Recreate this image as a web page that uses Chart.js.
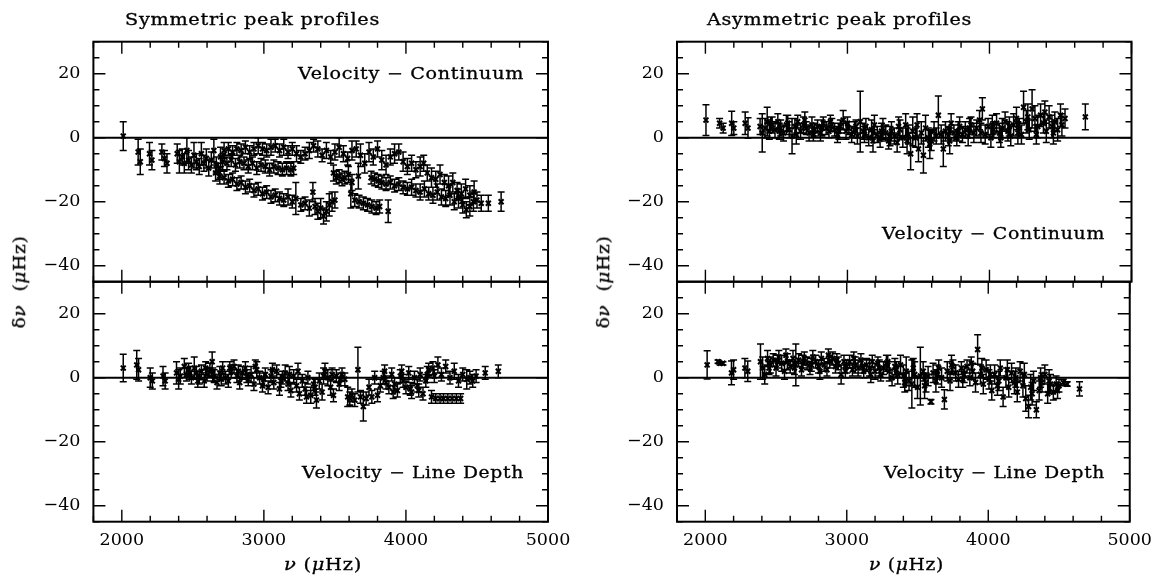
<!DOCTYPE html>
<html>
<head>
<meta charset="utf-8">
<script src="https://cdn.jsdelivr.net/npm/chart.js@4.4.1/dist/chart.umd.min.js"></script>
<style>
  html, body { margin: 0; padding: 0; background: #fff; overflow: hidden; }
  #page { position: relative; width: 1156px; height: 575px; }
  canvas { position: absolute; }
  .txt { position: absolute; font-family: 'DejaVu Serif', serif; font-size: 16px; line-height: 16px; color: #000; white-space: pre; -webkit-text-stroke: 0.3px #000; }
</style>
</head>
<body>
<div id="page">
  <canvas id="symCont" width="580" height="330" style="left:0px;top:0px"></canvas>
  <canvas id="symDepth" width="580" height="345" style="left:0px;top:230px"></canvas>
  <canvas id="asymCont" width="580" height="330" style="left:580px;top:0px"></canvas>
  <canvas id="asymDepth" width="580" height="345" style="left:580px;top:230px"></canvas>
</div>
<script>
// axis ranges and labelled ticks
const xMin = 1800, xMax = 5000, xMinorStep = 200;
const yMin = -45, yMax = 30, yMinorStep = 5;
const xLabelTicks = [2000, 3000, 4000, 5000];
const yLabelTicks = [-40, -20, 0, 20];

// rows: [frequency (uHz), frequency shift (uHz), error (uHz)]
const symContinuum = [
  [2010, 0.5, 4.5], [2115, -4.5, 4], [2130, -7.5, 4], [2195, -5, 3.5], [2212, -7, 3],
  [2282, -4.5, 2.5], [2300, -6.5, 2.5], [2318, -8, 3],
  [2390, -5, 3], [2405, -7.5, 3.5], [2425, -6, 2.5], [2440, -8, 3], [2458, -4, 4],
  [2470, -7, 3], [2490, -8.5, 2.5], [2508, -5.5, 4], [2525, -7.5, 2.5], [2545, -9, 2.5],
  [2560, -5, 3.5], [2578, -8, 2.5], [2595, -6.5, 3], [2612, -9.5, 2.5], [2630, -7, 2.5],
  [2648, -4, 3.5], [2665, -8.5, 2.5], [2680, -10.5, 2.5], [2695, -6, 3],
  // upper track
  [2720, -4, 2.5], [2750, -3.5, 2], [2780, -4.5, 2], [2810, -3.5, 2], [2840, -4, 2],
  [2870, -3, 2], [2900, -4.5, 2], [2930, -3.5, 2], [2960, -2.5, 2.5], [2990, -3.5, 2],
  [3020, -4, 2], [3050, -3, 2.5], [3080, -2.5, 2], [3110, -4, 2], [3140, -3, 2.5],
  [3170, -4.5, 2], [3200, -3.5, 2], [3230, -5, 2.5], [3260, -6, 2], [3290, -5, 2],
  [3320, -4, 2.5], [3350, -2.5, 2], [3380, -3.5, 2.5], [3410, -5.5, 2], [3440, -4, 2.5],
  [3470, -6, 2], [3500, -4.5, 2.5], [3530, -3, 3], [3560, -5, 2.5], [3590, -6.5, 2],
  [3620, -4, 3], [3650, -3.5, 2.5], [3680, -5.5, 3.5], [3710, -8, 3], [3740, -4.5, 3],
  [3770, -6, 2.5], [3800, -3.5, 2.5], [3830, -7, 3], [3860, -8.5, 3], [3890, -6, 2.5],
  [3920, -5, 3], [3950, -4.5, 2.5], [3980, -7.5, 3], [4010, -9, 2.5], [4040, -8, 2.5],
  [4070, -10, 2.5], [4100, -9, 3], [4125, -8, 2.5],
  [4150, -11, 2.5], [4180, -12.5, 3], [4210, -13, 2.5], [4240, -11.5, 3], [4270, -14, 2.5],
  [4300, -15, 3], [4330, -14, 3], [4360, -16.5, 2.5], [4390, -17.5, 3], [4420, -16, 3],
  [4450, -18, 3], [4480, -17, 3.5],
  // middle track
  [2710, -7.5, 2.5], [2740, -8, 2], [2770, -7, 2], [2800, -8.5, 2], [2830, -7.5, 2],
  [2860, -8, 2], [2890, -9, 2], [2920, -8, 2], [2950, -9.5, 2], [2980, -8.5, 2],
  [3010, -9, 2], [3040, -10, 2], [3070, -9, 2], [3100, -9.5, 2], [3130, -10, 2],
  [3160, -9.5, 2], [3190, -10, 2], [3210, -9.5, 2],
  // lower track
  [2660, -11, 2.5], [2690, -12, 2.5], [2720, -12.5, 2], [2750, -13.5, 2], [2780, -13, 2],
  [2810, -14.5, 2], [2840, -14, 2], [2870, -15.5, 2], [2900, -15, 2], [2930, -16.5, 2],
  [2960, -16, 2], [2990, -17.5, 2], [3020, -17, 2], [3050, -18.5, 2], [3080, -18, 2],
  [3110, -19, 2], [3140, -19.5, 2], [3170, -18.5, 2.5], [3200, -20, 2], [3225, -19, 5],
  [3260, -21, 2], [3290, -20.5, 2], [3320, -22, 2.5], [3345, -17, 3], [3360, -21.5, 2.5],
  [3380, -23, 2.5], [3400, -22, 3], [3420, -24.5, 2.5], [3440, -23, 3], [3460, -21, 3.5],
  [3480, -20, 3], [3500, -19.5, 2.5],
  [3490, -11, 2.5], [3510, -12.5, 2], [3530, -12, 2], [3550, -13, 2], [3570, -12.5, 2],
  [3595, -11.5, 2.5], [3620, -14, 2.5], [3665, -12, 4],
  [3612, -17.5, 4.5], [3640, -19.5, 2], [3670, -20, 2], [3700, -20.5, 2], [3730, -21, 2],
  [3760, -21.5, 2], [3790, -22, 2], [3815, -21.5, 2], [3875, -23, 3.5],
  // descending track
  [3755, -12.5, 2], [3780, -13, 2], [3805, -13.5, 2], [3830, -14, 2], [3860, -14.5, 2],
  [3890, -14, 2], [3920, -15, 2], [3950, -14.5, 2], [3980, -15.5, 2], [4010, -16, 2],
  [4040, -15.5, 2.5], [4070, -16.5, 2], [4100, -17, 2.5], [4130, -16, 2.5], [4160, -17.5, 2],
  [4190, -18, 2.5], [4220, -17, 2.5], [4250, -18.5, 2.5], [4280, -19, 2.5], [4310, -18, 3],
  [4340, -20, 2.5], [4370, -19, 3], [4400, -21, 2.5], [4425, -22.5, 2.5], [4450, -21.5, 3],
  [4475, -20, 3], [4500, -19.5, 2.5], [4530, -20.5, 2.5], [4580, -20.5, 2.5], [4670, -20, 3]
];

const symLineDepth = [
  [2010, 3, 4.3], [2105, 4, 4.5], [2118, 2.5, 3.5], [2200, 0, 3], [2215, -1, 2.5],
  [2290, 0.5, 3], [2305, -1, 2.5], [2385, 1.5, 3.5], [2400, -0.5, 3], [2412, 0.5, 2.5],
  [2440, 3.5, 2.5], [2455, 1, 2], [2470, 2.5, 2], [2480, 1.5, 2], [2490, 0, 2],
  [2510, 3, 3.5], [2525, 1.5, 2], [2535, -1, 2], [2545, 0, 2], [2560, 2, 2],
  [2580, -1, 2], [2590, 3, 2], [2600, 1, 2], [2620, 2.5, 2], [2636, 5, 3],
  [2640, 1, 2], [2650, 0.5, 2], [2670, -1.5, 2], [2690, 1.5, 2], [2700, -0.5, 2],
  [2710, 3, 2], [2730, 0, 2], [2750, -1, 2], [2760, 3, 2], [2770, 2, 2],
  [2790, 3.5, 2], [2810, 0.5, 2], [2820, 2, 2], [2830, -1.5, 2], [2850, 1.5, 2],
  [2870, 3, 2], [2880, 0.5, 2], [2890, -0.5, 2], [2910, 1, 2.5], [2930, -2, 2],
  [2940, 3.5, 2], [2950, 2.5, 2.5], [2970, 0, 2], [2990, -2.5, 2], [3000, -0.5, 2],
  [3010, 1, 2], [3030, -3, 2], [3050, 0.5, 2], [3060, 2.5, 2], [3070, -1.5, 2],
  [3090, 2, 2], [3110, -3.5, 2], [3120, -1, 2], [3130, 0, 2], [3150, 1.5, 2.5],
  [3170, -2, 2], [3180, 1, 2.5], [3190, -4, 2], [3210, 0.5, 2], [3230, -2.5, 2],
  [3240, 2, 2.5], [3250, -5, 2], [3270, -1, 2], [3290, -3.5, 2], [3300, -6, 2],
  [3310, 0, 2], [3330, -5.5, 2.5], [3350, -2, 2], [3360, -3, 2.5], [3370, -7, 2.5],
  [3390, -1, 2.5], [3410, -4.5, 2.5], [3420, 0.5, 2.5], [3430, 2, 2.5], [3450, 0, 2.5],
  [3470, -3, 2.5], [3480, 1, 2], [3490, -5.5, 2], [3510, 0.5, 2], [3530, -2, 2],
  [3540, -0.5, 2], [3550, 1, 2], [3570, -0.5, 2], [3590, -6, 3], [3605, -6.5, 2],
  [3620, -5.5, 2], [3640, -7, 2], [3662, 2.5, 7], [3680, -6, 2], [3700, -9, 4.5],
  [3720, -6.5, 2], [3740, -3, 2.5], [3760, -6, 2], [3780, 0, 2], [3800, -5.5, 2],
  [3820, -2.5, 2], [3840, 0, 2], [3850, 2, 2], [3860, -1.5, 2], [3880, -3, 2],
  [3900, 1, 2], [3910, -4.5, 2], [3920, -2, 2], [3940, -4, 2], [3960, 0.5, 2],
  [3970, 2, 2], [3980, -1, 2], [4000, -3, 2], [4020, 1.5, 2], [4030, -3.5, 2],
  [4040, -4.5, 2], [4060, 0, 2], [4080, -2.5, 2], [4090, -4, 2], [4100, 1, 2],
  [4120, -5, 2], [4140, -1, 2], [4150, 1, 2.5], [4160, 2.5, 2], [4180, -6, 2],
  [4190, 3, 2], [4200, 0.5, 2], [4210, -6.5, 1.5], [4225, 4, 2.5], [4240, -6.5, 1.5],
  [4250, 1, 2], [4265, -6.5, 1.5], [4280, 3.5, 2], [4295, -6.5, 1.5], [4310, 0, 2],
  [4325, -6.5, 1.5], [4340, 2, 2.5], [4355, -6.5, 1.5], [4370, -1, 2], [4385, -6.5, 1.5],
  [4400, 1, 2], [4428, -0.5, 3], [4450, 0, 2], [4470, -1, 2], [4494, 0.5, 2],
  [4558, 1.5, 2], [4650, 2, 2]
];

const asymContinuum = [
  [2004, 5.5, 4.8], [2100, 4.5, 1.5], [2125, 3, 1.5], [2185, 4.5, 3.8], [2200, 3, 2],
  [2280, 4.5, 3.5], [2300, 3, 3.2], [2385, 3.5, 2.5], [2400, 1.5, 6], [2420, 3, 3],
  [2435, 5, 4.5], [2450, 2, 2.5], [2460, 4.5, 2], [2470, 4, 2.5], [2490, 2.5, 2.5],
  [2510, 5, 2.5], [2520, 2, 2.5], [2530, 3, 2.5], [2550, 1.5, 2.5], [2570, 4, 3],
  [2580, 4.5, 2.5], [2590, 2.5, 2.5], [2610, 0.5, 5.5], [2630, 3.5, 2.5], [2640, 1, 3],
  [2650, 5, 2], [2670, 2, 2.5], [2690, 4, 2.5], [2700, 5.5, 2.5], [2710, 3, 2],
  [2730, 1.5, 2.5], [2750, 4, 2.5], [2760, 1, 2], [2770, 2.5, 2], [2790, 3.5, 2],
  [2810, 1.5, 2.5], [2820, 3, 2.5], [2830, 4.5, 2], [2850, 3, 2], [2870, 2, 2],
  [2880, 5, 2], [2890, 4, 2], [2910, 2.5, 2], [2930, 1, 2.5], [2940, 2, 2.5],
  [2950, 3.5, 2], [2970, 5.5, 3], [2990, 2, 2.5], [3000, 4.5, 2], [3010, 3, 2],
  [3030, 1, 2.5], [3050, 2.5, 2.5], [3060, 3.5, 2], [3070, 0.5, 2.5], [3090, 5, 9.5],
  [3110, 2, 2.5], [3120, 1, 2.5], [3130, 3.5, 2.5], [3150, 0, 2.5], [3170, 2.5, 3],
  [3180, -1, 3.5], [3190, 4, 3], [3210, 1, 2.5], [3230, -0.5, 2.5], [3240, 2, 2.5],
  [3250, 3, 3], [3270, 1.5, 2.5], [3290, -1, 2.5], [3300, 0.5, 3], [3310, 2, 3],
  [3330, 0.5, 2.5], [3350, -1.5, 3], [3360, 3.5, 3], [3370, 2.5, 3], [3390, 0, 3],
  [3410, 4, 3.5], [3420, -1, 4], [3430, 1, 3], [3445, -5, 5], [3460, 2, 4.5],
  [3480, 0, 3], [3490, 4, 3.5], [3500, -3.5, 4], [3520, 1.5, 3.5], [3535, -5.5, 5.5],
  [3550, 3, 4], [3570, 0, 3], [3580, -2, 4.5], [3590, -1, 3], [3610, 2, 3],
  [3625, 0.5, 2.5], [3640, 7, 6], [3660, 1, 3], [3675, -3.5, 5.5], [3690, 2, 3],
  [3710, 0.5, 3], [3720, -1, 4], [3730, 4.5, 3], [3750, 1.5, 2.5], [3770, 0, 2.5],
  [3780, 2, 3], [3790, 3.5, 3], [3810, 1, 2.5], [3830, 2.5, 2.5], [3850, 0.5, 3],
  [3860, 3, 3], [3870, 4, 2.5], [3890, 1.5, 3], [3910, 3, 2.5], [3930, 5.5, 3],
  [3940, 1.5, 3], [3950, 9, 3.5], [3970, 1, 3], [3990, 3.5, 2.5], [4010, 0, 3],
  [4020, 4, 3], [4030, 2.5, 2.5], [4050, 4.5, 3], [4070, 1.5, 3], [4080, 0, 3],
  [4090, 3, 3], [4110, 5, 3], [4130, 2, 3], [4140, 3.5, 3], [4150, 0.5, 3],
  [4170, 4, 3.5], [4190, 6, 3.5], [4200, 1.5, 3.5], [4210, 3, 3], [4225, 1, 3],
  [4240, 9.5, 5], [4260, 5, 3.5], [4270, 6.5, 4], [4280, 2.5, 3], [4300, 9, 6],
  [4320, 6, 4], [4330, 1, 3], [4340, 3.5, 3.5], [4360, 7, 3.5], [4380, 4.5, 3],
  [4390, 8, 3.5], [4400, 2, 3.5], [4420, 6.5, 3.5], [4440, 3.5, 3.5], [4450, 1.5, 3.5],
  [4460, 5, 3], [4480, 2.5, 3.5], [4500, 7, 3.5], [4510, 4, 3.5], [4532, 6, 3],
  [4675, 6.5, 4]
];

const asymLineDepth = [
  [2013, 4, 4.4], [2090, 5, 0.5], [2105, 4.5, 0.5], [2125, 4.5, 0.5], [2185, 1.5, 3.7],
  [2200, 2.5, 3], [2280, 3, 3], [2300, 2, 3.2], [2390, 5, 5.5], [2405, 3, 3.5],
  [2420, 1, 3], [2440, 6, 2.5], [2450, 3, 2], [2460, 4, 2.5], [2480, 5.5, 2],
  [2500, 3, 2.5], [2510, 5, 2], [2520, 6.5, 2], [2540, 4.5, 2.5], [2560, 2, 2.5],
  [2570, 7, 2], [2580, 5, 2.5], [2600, 3.5, 2], [2620, 6, 2.5], [2630, 3, 2],
  [2640, 4, 6.5], [2660, 5.5, 2], [2680, 2.5, 2], [2690, 5, 2], [2700, 6, 2],
  [2720, 4.5, 2], [2740, 3, 2], [2750, 4, 2], [2760, 6.5, 2], [2780, 5, 2],
  [2800, 3.5, 2], [2810, 2, 2.5], [2820, 6, 2], [2840, 4, 2], [2860, 2.5, 2],
  [2870, 7, 2], [2880, 5, 2], [2900, 6, 2], [2920, 3.5, 2], [2930, 5.5, 2],
  [2940, 4.5, 2], [2960, 1, 3], [2980, 5, 2], [2990, 2, 2], [3000, 3.5, 2],
  [3020, 5, 2], [3040, 2.5, 2], [3050, 6, 2], [3060, 4, 2.5], [3080, 3, 2.5],
  [3100, 5.5, 2], [3110, 3.5, 2], [3120, 2, 2], [3140, 4, 2], [3160, 3, 2.5],
  [3170, 1, 2.5], [3180, 5, 2], [3200, 2, 2.5], [3220, 4.5, 2], [3230, 3, 2.5],
  [3240, 1, 2], [3260, 3, 2], [3280, 4.5, 2.5], [3290, 5, 2], [3300, 2, 3],
  [3320, 0, 2.5], [3340, 3.5, 2.5], [3350, 2.5, 2.5], [3360, 1, 3], [3380, 4, 3],
  [3400, 0.5, 3.5], [3410, -1.5, 3], [3420, 2, 4.5], [3440, -1, 3], [3460, -2, 7.5],
  [3470, 3, 3], [3480, 1, 4], [3500, -3, 3.5], [3520, 0.5, 9], [3540, 2, 3],
  [3550, -2.5, 4], [3560, -1.5, 3], [3575, 0.5, 3], [3595, -7.5, 0.7], [3610, 1.5, 3],
  [3630, -1, 3.5], [3640, 1, 3], [3650, 3, 2.5], [3670, 0, 3], [3690, -6.8, 3],
  [3710, 2, 3], [3730, -1, 3], [3740, 4, 3], [3750, 3.5, 2], [3770, 1.5, 2.5],
  [3790, -0.5, 2.5], [3810, 3, 2], [3820, -0.5, 2.5], [3830, 1, 2.5], [3850, 3.5, 2],
  [3870, 0, 2.5], [3880, 4.5, 2], [3890, 2, 2.5], [3910, -1.5, 3], [3925, 8.8, 4.6],
  [3945, 1, 3], [3955, 3, 3], [3965, -2, 3], [3985, 2.5, 3], [4005, -0.5, 3],
  [4015, 1, 3], [4025, -4, 3], [4045, 1, 3], [4065, -2.5, 3], [4075, -1, 3],
  [4085, 3, 2.5], [4105, -6, 3], [4125, 0, 3], [4135, 2.5, 3], [4145, -3, 3],
  [4165, 1.5, 3], [4185, -1.5, 3.5], [4195, 0, 3], [4205, -4.5, 3], [4225, 2, 3],
  [4245, -2.5, 3.5], [4255, 1, 3.5], [4265, -6.5, 4], [4285, -9, 3.5], [4300, -3, 4],
  [4310, -5, 3.5], [4320, -1, 3], [4340, -10, 2.5], [4360, -4, 3], [4370, 0, 3],
  [4380, -1.5, 3], [4400, 1, 3], [4420, -5, 3], [4430, -1, 3.5], [4440, -2, 3],
  [4460, -4.5, 2.5], [4480, -2, 2.5], [4490, -4, 2.5], [4500, -2.5, 2], [4530, -1.5, 1],
  [4558, -2, 0.7], [4645, -3.5, 2.2]
];

const black = '#000';
const tickFont = { family: 'DejaVu Serif', size: 17.5 };

function signed(v) {
  return v < 0 ? '\u2212' + Math.abs(v) : String(v);
}

// error bars under the markers, placed through the chart scales
const errorBars = {
  id: 'errorBars',
  beforeDatasetsDraw(chart) {
    const { ctx, scales: { x, y } } = chart;
    const pts = chart.data.datasets[0].data;
    ctx.save();
    ctx.strokeStyle = black;
    ctx.lineWidth = 1.5;
    ctx.beginPath();
    pts.forEach(p => {
      const px = x.getPixelForValue(p.x);
      const lo = y.getPixelForValue(p.y - p.err);
      const hi = y.getPixelForValue(p.y + p.err);
      ctx.moveTo(px, lo); ctx.lineTo(px, hi);
      ctx.moveTo(px - 3.5, lo); ctx.lineTo(px + 3.5, lo);
      ctx.moveTo(px - 3.5, hi); ctx.lineTo(px + 3.5, hi);
    });
    ctx.stroke();
    ctx.restore();
  }
};

// box frame with inward ticks on all four sides
const frameTicks = {
  id: 'frameTicks',
  afterDraw(chart) {
    const { ctx, chartArea: a, scales: { x, y } } = chart;
    ctx.save();
    ctx.strokeStyle = black;
    ctx.lineWidth = 2;
    ctx.strokeRect(a.left, a.top, a.right - a.left, a.bottom - a.top);
    ctx.lineWidth = 1.4;
    ctx.beginPath();
    for (let v = xMin; v <= xMax; v += xMinorStep) {
      const px = x.getPixelForValue(v);
      const len = v % 1000 === 0 ? 12 : 6;
      ctx.moveTo(px, a.top); ctx.lineTo(px, a.top + len);
      ctx.moveTo(px, a.bottom); ctx.lineTo(px, a.bottom - len);
    }
    for (let v = yMin; v <= yMax; v += yMinorStep) {
      const py = y.getPixelForValue(v);
      const len = v % 20 === 0 ? 12 : 6;
      ctx.moveTo(a.left, py); ctx.lineTo(a.left + len, py);
      ctx.moveTo(a.right, py); ctx.lineTo(a.right - len, py);
    }
    ctx.stroke();
    ctx.restore();
  }
};

function drawPanel(id, rows, showX, yWidth, padding) {
  const points = rows.map(r => ({ x: r[0], y: r[1], err: r[2] }));
  return new Chart(document.getElementById(id), {
    type: 'scatter',
    data: {
      datasets: [
        {
          data: points,
          pointStyle: 'crossRot',
          pointRadius: 3.5,
          pointBorderWidth: 2,
          borderColor: black,
          backgroundColor: black
        },
        {
          data: [{ x: xMin, y: 0 }, { x: xMax, y: 0 }],
          showLine: true,
          borderColor: black,
          borderWidth: 2,
          pointRadius: 0
        }
      ]
    },
    options: {
      responsive: false,
      animation: false,
      layout: { padding },
      plugins: { legend: { display: false }, tooltip: { enabled: false } },
      scales: {
        x: {
          type: 'linear', min: xMin, max: xMax,
          display: showX,
          afterFit: s => { if (showX) s.height = 40; },
          grid: { display: false, drawTicks: false },
          border: { display: false },
          ticks: {
            stepSize: xMinorStep, autoSkip: false, maxRotation: 0, padding: 8,
            color: black, font: tickFont,
            callback: v => xLabelTicks.includes(v) ? String(v) : null
          }
        },
        y: {
          type: 'linear', min: yMin, max: yMax,
          afterFit: s => { s.width = yWidth; },
          grid: { display: false, drawTicks: false },
          border: { display: false },
          ticks: {
            stepSize: yMinorStep, autoSkip: false, padding: 13,
            color: black, font: tickFont,
            callback: v => yLabelTicks.includes(v) ? signed(v) : null
          }
        }
      }
    },
    plugins: [errorBars, frameTicks]
  });
}

drawPanel('symCont', symContinuum, false, 93.4, { top: 41.7, right: 32, bottom: 48.3, left: 0 });
drawPanel('symDepth', symLineDepth, true, 93.4, { top: 51.7, right: 32, bottom: 13.3, left: 0 });
drawPanel('asymCont', asymContinuum, false, 97, { top: 41.7, right: 28.5, bottom: 48.3, left: 0 });
drawPanel('asymDepth', asymLineDepth, true, 97, { top: 51.7, right: 28.5, bottom: 13.3, left: 0 });

// text labels, stretched to the reference widths
const page = document.getElementById('page');
function makeText(html) {
  const el = document.createElement('div');
  el.className = 'txt';
  el.innerHTML = html;
  el.style.letterSpacing = '0.6px';
  page.appendChild(el);
  return el;
}
function placeText(html, left, baseline, width) {
  const el = makeText(html);
  el.style.left = left + 'px';
  el.style.top = (baseline - 13.5) + 'px';
  const natural = el.getBoundingClientRect().width;
  el.style.transformOrigin = '0 0';
  el.style.transform = 'scaleX(' + (width / natural) + ')';
}
function placeVertical(html, cx, cy, length) {
  const el = makeText(html);
  const natural = el.getBoundingClientRect().width;
  el.style.left = (cx - natural / 2) + 'px';
  el.style.top = (cy - 8) + 'px';
  el.style.transform = 'rotate(-90deg) scaleX(' + (length / natural) + ')';
}

placeText('Symmetric peak profiles', 125, 25, 255);
placeText('Asymmetric peak profiles', 707, 25, 265);
placeText('Velocity \u2212 Continuum', 298, 79, 226);
placeText('Velocity \u2212 Line Depth', 302, 478, 222);
placeText('Velocity \u2212 Continuum', 882, 239, 223);
placeText('Velocity \u2212 Line Depth', 884, 478, 221);
placeText('<i>\u03bd</i> (<i>\u03bc</i>Hz)', 284, 570, 78);
placeText('<i>\u03bd</i> (<i>\u03bc</i>Hz)', 869, 570, 75);
placeVertical('\u03b4<i>\u03bd</i>  (<i>\u03bc</i>Hz)', 20, 281.5, 93);
placeVertical('\u03b4<i>\u03bd</i>  (<i>\u03bc</i>Hz)', 604, 281.5, 93);
</script>
</body>
</html>
